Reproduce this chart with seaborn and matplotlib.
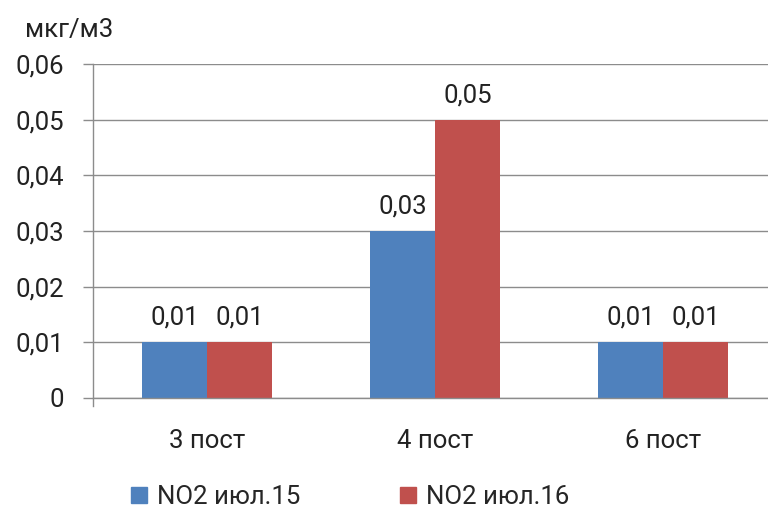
import pandas as pd
import matplotlib.pyplot as plt
import seaborn as sns

posts = ['3 пост', '4 пост', '6 пост']
series_names = ['NO2 июл.15', 'NO2 июл.16']
no2_jul15 = [0.01, 0.03, 0.01]
no2_jul16 = [0.01, 0.05, 0.01]
y_ticks = [0, 0.01, 0.02, 0.03, 0.04, 0.05, 0.06]
colors = ['#4F81BD', '#C0504D']

df = pd.DataFrame({
    'post': posts * 2,
    'series': [series_names[0]] * 3 + [series_names[1]] * 3,
    'value': no2_jul15 + no2_jul16,
})

sns.set_theme(style='white')
plt.rcParams['font.family'] = ['Roboto', 'DejaVu Sans']
grid_col = '#8c8c8c'
txt_col = '#222222'
fs = 18.5

fig = plt.figure(figsize=(7.68, 5.14), dpi=100)
ax = fig.add_axes([0.121, 0.2257, 0.879, 0.65])

sns.barplot(data=df, x='post', y='value', hue='series', palette=colors,
            width=0.57, saturation=1, linewidth=0, ax=ax, legend=False)

for cont in ax.containers:
    ax.bar_label(cont, labels=[f'{v:.2f}'.replace('.', ',') for v in cont.datavalues],
                 padding=9, fontsize=fs, color=txt_col)

ax.set_ylim(0, 0.06)
ax.set_xlim(-0.5, 2.46)
ax.set_yticks(y_ticks)
ax.set_yticklabels(['0' if v == 0 else f'{v:.2f}'.replace('.', ',') for v in y_ticks])
ax.yaxis.grid(True, color=grid_col, linewidth=1)
ax.set_axisbelow(True)
ax.set_xlabel('')
ax.set_ylabel('')

ax.set_xticks([0.5, 1.5], minor=True)
ax.tick_params(axis='x', which='major', length=0, pad=22, labelsize=fs, labelcolor=txt_col)
ax.tick_params(axis='x', which='minor', length=7, width=1, color=grid_col, direction='out')
ax.tick_params(axis='y', length=7, width=1, color=grid_col, direction='out',
               pad=14, labelsize=fs, labelcolor=txt_col, left=True)

for s in ['top', 'right']:
    ax.spines[s].set_visible(False)
for s in ['left', 'bottom']:
    ax.spines[s].set_color(grid_col)
    ax.spines[s].set_linewidth(1)
ax.spines['left'].set_bounds(-0.0015, 0.06)

fig.text(0.033, 0.942, 'мкг/м3', fontsize=fs, color=txt_col, va='center')

handles = [plt.Rectangle((0, 0), 1, 1, color=c) for c in colors]
fig.legend(handles, series_names, loc='center', bbox_to_anchor=(0.456, 0.033), ncol=2,
           frameon=False, fontsize=fs, handlelength=0.6, handleheight=0.6,
           handletextpad=0.4, columnspacing=3.9)

fig.savefig('out.png', dpi=100)
